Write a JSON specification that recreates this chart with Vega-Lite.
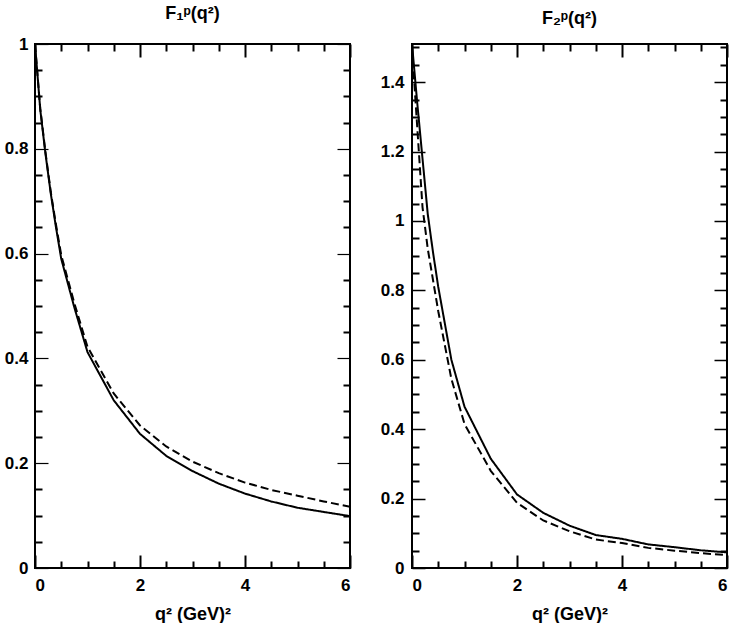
{
  "$schema": "https://vega.github.io/schema/vega-lite/v6.json",
  "padding": {"left": 3, "top": 4, "right": 5, "bottom": 5},
  "bounds": "flush",
  "spacing": 62,
  "config": {
    "view": {"stroke": "black", "strokeWidth": 2},
    "font": "Liberation Sans",
    "axis": {"grid": false, "domain": false, "labelFont": "Liberation Sans", "labelFontWeight": "bold", "labelFontSize": 17, "labelColor": "black", "titleFont": "Liberation Sans", "titleFontWeight": "bold", "titleFontSize": 18, "titleColor": "black", "tickColor": "black"},
    "title": {"font": "Liberation Sans", "fontSize": 18, "fontWeight": "bold", "color": "black", "offset": 12}
  },
  "datasets": {
    "f1": [
      {"q": 0, "F": 1.0, "series": "solid"}, {"q": 0.1, "F": 0.875, "series": "solid"}, {"q": 0.2, "F": 0.79, "series": "solid"}, {"q": 0.3, "F": 0.715, "series": "solid"}, {"q": 0.4, "F": 0.65, "series": "solid"}, {"q": 0.5, "F": 0.59, "series": "solid"}, {"q": 0.75, "F": 0.497, "series": "solid"}, {"q": 1, "F": 0.412, "series": "solid"}, {"q": 1.5, "F": 0.32, "series": "solid"}, {"q": 2, "F": 0.256, "series": "solid"}, {"q": 2.5, "F": 0.214, "series": "solid"}, {"q": 3, "F": 0.185, "series": "solid"}, {"q": 3.5, "F": 0.161, "series": "solid"}, {"q": 4, "F": 0.142, "series": "solid"}, {"q": 4.5, "F": 0.127, "series": "solid"}, {"q": 5, "F": 0.115, "series": "solid"}, {"q": 5.5, "F": 0.107, "series": "solid"}, {"q": 6, "F": 0.099, "series": "solid"},
      {"q": 0, "F": 1.0, "series": "dashed"}, {"q": 0.1, "F": 0.877, "series": "dashed"}, {"q": 0.2, "F": 0.793, "series": "dashed"}, {"q": 0.3, "F": 0.718, "series": "dashed"}, {"q": 0.4, "F": 0.655, "series": "dashed"}, {"q": 0.5, "F": 0.597, "series": "dashed"}, {"q": 0.75, "F": 0.505, "series": "dashed"}, {"q": 1, "F": 0.422, "series": "dashed"}, {"q": 1.5, "F": 0.333, "series": "dashed"}, {"q": 2, "F": 0.272, "series": "dashed"}, {"q": 2.5, "F": 0.232, "series": "dashed"}, {"q": 3, "F": 0.203, "series": "dashed"}, {"q": 3.5, "F": 0.181, "series": "dashed"}, {"q": 4, "F": 0.163, "series": "dashed"}, {"q": 4.5, "F": 0.149, "series": "dashed"}, {"q": 5, "F": 0.138, "series": "dashed"}, {"q": 5.5, "F": 0.127, "series": "dashed"}, {"q": 6, "F": 0.117, "series": "dashed"}
    ],
    "f2": [
      {"q": 0, "F": 1.51, "series": "solid"}, {"q": 0.1, "F": 1.34, "series": "solid"}, {"q": 0.2, "F": 1.18, "series": "solid"}, {"q": 0.3, "F": 1.02, "series": "solid"}, {"q": 0.4, "F": 0.91, "series": "solid"}, {"q": 0.5, "F": 0.81, "series": "solid"}, {"q": 0.75, "F": 0.6, "series": "solid"}, {"q": 1, "F": 0.465, "series": "solid"}, {"q": 1.5, "F": 0.315, "series": "solid"}, {"q": 2, "F": 0.212, "series": "solid"}, {"q": 2.5, "F": 0.159, "series": "solid"}, {"q": 3, "F": 0.122, "series": "solid"}, {"q": 3.5, "F": 0.095, "series": "solid"}, {"q": 4, "F": 0.084, "series": "solid"}, {"q": 4.5, "F": 0.068, "series": "solid"}, {"q": 5, "F": 0.06, "series": "solid"}, {"q": 5.5, "F": 0.051, "series": "solid"}, {"q": 6, "F": 0.045, "series": "solid"},
      {"q": 0, "F": 1.5, "series": "dashed"}, {"q": 0.1, "F": 1.27, "series": "dashed"}, {"q": 0.2, "F": 1.04, "series": "dashed"}, {"q": 0.3, "F": 0.92, "series": "dashed"}, {"q": 0.4, "F": 0.83, "series": "dashed"}, {"q": 0.5, "F": 0.74, "series": "dashed"}, {"q": 0.75, "F": 0.545, "series": "dashed"}, {"q": 1, "F": 0.415, "series": "dashed"}, {"q": 1.5, "F": 0.28, "series": "dashed"}, {"q": 2, "F": 0.188, "series": "dashed"}, {"q": 2.5, "F": 0.137, "series": "dashed"}, {"q": 3, "F": 0.106, "series": "dashed"}, {"q": 3.5, "F": 0.082, "series": "dashed"}, {"q": 4, "F": 0.072, "series": "dashed"}, {"q": 4.5, "F": 0.058, "series": "dashed"}, {"q": 5, "F": 0.05, "series": "dashed"}, {"q": 5.5, "F": 0.043, "series": "dashed"}, {"q": 6, "F": 0.037, "series": "dashed"}
    ]
  },
  "hconcat": [
    {
      "title": "F₁ᵖ(q²)",
      "width": 315,
      "height": 524,
      "data": {"name": "f1"},
      "resolve": {"axis": {"x": "independent", "y": "independent"}},
      "layer": [
        {
          "mark": {"type": "line", "color": "black", "strokeWidth": 2},
          "encoding": {
            "x": {"field": "q", "type": "quantitative", "scale": {"domain": [0, 6], "nice": false, "zero": false}, "axis": {"orient": "bottom", "values": [0, 2, 4, 6], "ticks": false, "labelPadding": 9, "format": "~g", "title": "q² (GeV)²", "titlePadding": 12}},
            "y": {"field": "F", "type": "quantitative", "scale": {"domain": [0, 1], "nice": false}, "axis": {"orient": "left", "values": [0, 0.2, 0.4, 0.6, 0.8, 1], "ticks": false, "labelPadding": 7, "format": "~g", "title": null}},
            "strokeDash": {"field": "series", "type": "nominal", "scale": {"domain": ["solid", "dashed"], "range": [[1, 0], [8, 4]]}, "legend": null}
          }
        },
        {
          "mark": {"type": "line", "opacity": 0},
          "encoding": {
            "x": {"field": "q", "type": "quantitative", "axis": {"orient": "bottom", "values": [0, 2, 4, 6], "labels": false, "tickSize": -13, "tickWidth": 2, "title": null}},
            "y": {"field": "F", "type": "quantitative", "axis": {"orient": "left", "values": [0, 0.2, 0.4, 0.6, 0.8, 1], "labels": false, "tickSize": -13, "tickWidth": 1.2, "title": null}},
            "detail": {"field": "series"}
          }
        },
        {
          "mark": {"type": "line", "opacity": 0},
          "encoding": {
            "x": {"field": "q", "type": "quantitative", "axis": {"orient": "bottom", "values": [0.5, 1, 1.5, 2.5, 3, 3.5, 4.5, 5, 5.5], "labels": false, "tickSize": -7, "tickWidth": 2, "title": null}},
            "y": {"field": "F", "type": "quantitative", "axis": {"orient": "left", "values": [0.05, 0.1, 0.15, 0.25, 0.3, 0.35, 0.45, 0.5, 0.55, 0.65, 0.7, 0.75, 0.85, 0.9, 0.95], "labels": false, "tickSize": -7, "tickWidth": 2, "title": null}},
            "detail": {"field": "series"}
          }
        },
        {
          "mark": {"type": "line", "opacity": 0},
          "encoding": {
            "x": {"field": "q", "type": "quantitative", "axis": {"orient": "top", "values": [0, 2, 4, 6], "labels": false, "tickSize": -13, "tickWidth": 2, "title": null}},
            "y": {"field": "F", "type": "quantitative", "axis": {"orient": "right", "values": [0, 0.2, 0.4, 0.6, 0.8, 1], "labels": false, "tickSize": -13, "tickWidth": 1.2, "title": null}},
            "detail": {"field": "series"}
          }
        },
        {
          "mark": {"type": "line", "opacity": 0},
          "encoding": {
            "x": {"field": "q", "type": "quantitative", "axis": {"orient": "top", "values": [0.5, 1, 1.5, 2.5, 3, 3.5, 4.5, 5, 5.5], "labels": false, "tickSize": -7, "tickWidth": 2, "title": null}},
            "y": {"field": "F", "type": "quantitative", "axis": {"orient": "right", "values": [0.05, 0.1, 0.15, 0.25, 0.3, 0.35, 0.45, 0.5, 0.55, 0.65, 0.7, 0.75, 0.85, 0.9, 0.95], "labels": false, "tickSize": -7, "tickWidth": 2, "title": null}},
            "detail": {"field": "series"}
          }
        }
      ]
    },
    {
      "title": "F₂ᵖ(q²)",
      "width": 315,
      "height": 524,
      "data": {"name": "f2"},
      "resolve": {"axis": {"x": "independent", "y": "independent"}},
      "layer": [
        {
          "mark": {"type": "line", "color": "black", "strokeWidth": 2},
          "encoding": {
            "x": {"field": "q", "type": "quantitative", "scale": {"domain": [0, 6], "nice": false, "zero": false}, "axis": {"orient": "bottom", "values": [0, 2, 4, 6], "ticks": false, "labelPadding": 9, "format": "~g", "title": "q² (GeV)²", "titlePadding": 12}},
            "y": {"field": "F", "type": "quantitative", "scale": {"domain": [0, 1.51], "nice": false}, "axis": {"orient": "left", "values": [0, 0.2, 0.4, 0.6, 0.8, 1, 1.2, 1.4], "ticks": false, "labelPadding": 8, "format": "~g", "title": null}},
            "strokeDash": {"field": "series", "type": "nominal", "scale": {"domain": ["solid", "dashed"], "range": [[1, 0], [8, 4]]}, "legend": null}
          }
        },
        {
          "mark": {"type": "line", "opacity": 0},
          "encoding": {
            "x": {"field": "q", "type": "quantitative", "axis": {"orient": "bottom", "values": [0, 2, 4, 6], "labels": false, "tickSize": -13, "tickWidth": 2, "title": null}},
            "y": {"field": "F", "type": "quantitative", "axis": {"orient": "left", "values": [0, 0.2, 0.4, 0.6, 0.8, 1, 1.2, 1.4], "labels": false, "tickSize": -13, "tickWidth": 1.5, "title": null}},
            "detail": {"field": "series"}
          }
        },
        {
          "mark": {"type": "line", "opacity": 0},
          "encoding": {
            "x": {"field": "q", "type": "quantitative", "axis": {"orient": "bottom", "values": [0.5, 1, 1.5, 2.5, 3, 3.5, 4.5, 5, 5.5], "labels": false, "tickSize": -7, "tickWidth": 2, "title": null}},
            "y": {"field": "F", "type": "quantitative", "axis": {"orient": "left", "values": [0.05, 0.1, 0.15, 0.25, 0.3, 0.35, 0.45, 0.5, 0.55, 0.65, 0.7, 0.75, 0.85, 0.9, 0.95, 1.05, 1.1, 1.15, 1.25, 1.3, 1.35, 1.45, 1.5], "labels": false, "tickSize": -7, "tickWidth": 2, "title": null}},
            "detail": {"field": "series"}
          }
        },
        {
          "mark": {"type": "line", "opacity": 0},
          "encoding": {
            "x": {"field": "q", "type": "quantitative", "axis": {"orient": "top", "values": [0, 2, 4, 6], "labels": false, "tickSize": -13, "tickWidth": 2, "title": null}},
            "y": {"field": "F", "type": "quantitative", "axis": {"orient": "right", "values": [0, 0.2, 0.4, 0.6, 0.8, 1, 1.2, 1.4], "labels": false, "tickSize": -13, "tickWidth": 1.5, "title": null}},
            "detail": {"field": "series"}
          }
        },
        {
          "mark": {"type": "line", "opacity": 0},
          "encoding": {
            "x": {"field": "q", "type": "quantitative", "axis": {"orient": "top", "values": [0.5, 1, 1.5, 2.5, 3, 3.5, 4.5, 5, 5.5], "labels": false, "tickSize": -7, "tickWidth": 2, "title": null}},
            "y": {"field": "F", "type": "quantitative", "axis": {"orient": "right", "values": [0.05, 0.1, 0.15, 0.25, 0.3, 0.35, 0.45, 0.5, 0.55, 0.65, 0.7, 0.75, 0.85, 0.9, 0.95, 1.05, 1.1, 1.15, 1.25, 1.3, 1.35, 1.45, 1.5], "labels": false, "tickSize": -7, "tickWidth": 2, "title": null}},
            "detail": {"field": "series"}
          }
        }
      ]
    }
  ]
}
